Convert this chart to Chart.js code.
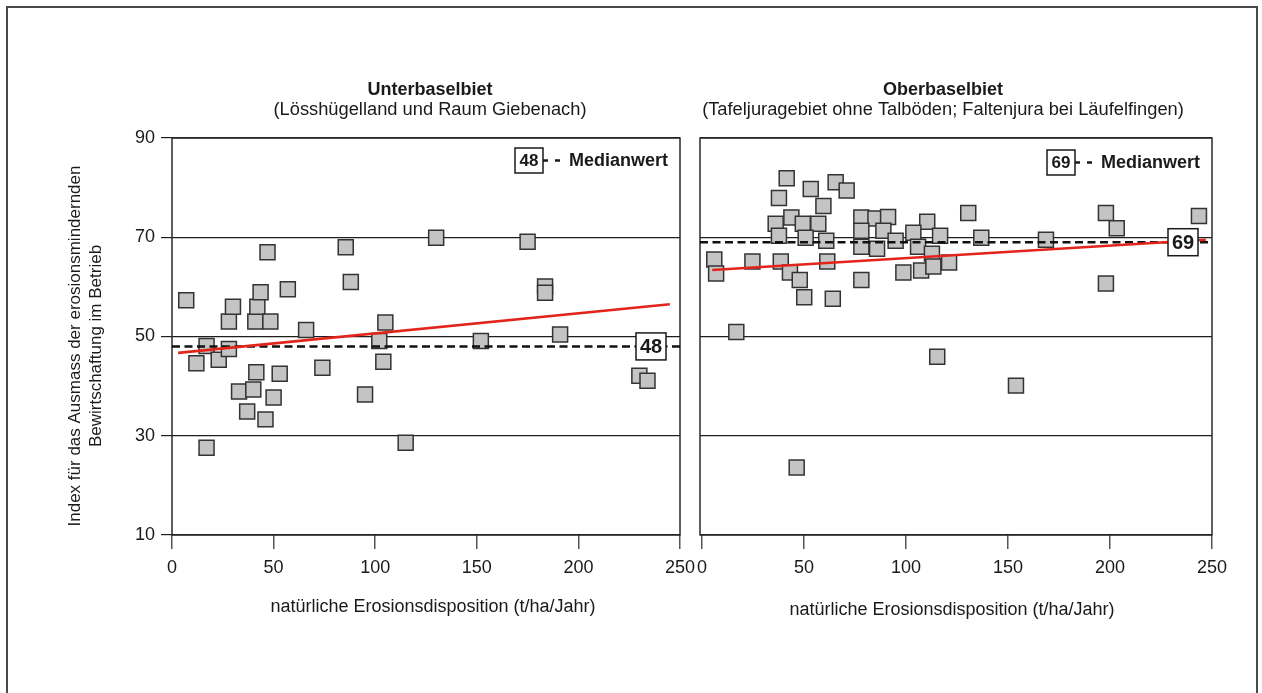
<!DOCTYPE html>
<html>
<head>
<meta charset="utf-8">
<script src="https://cdn.jsdelivr.net/npm/chart.js@4.4.1/dist/chart.umd.min.js"></script>
<style>
  html, body { margin: 0; padding: 0; background: #fff; width: 1262px; height: 693px; overflow: hidden; }
  #frame { position: absolute; left: 6px; top: 6px; width: 1252px; height: 720px; border: 2px solid #4a4a4a; box-sizing: border-box; }
  canvas { position: absolute; top: 0; }
  #cUnter { left: 0; }
  #cOber { left: 660px; }
</style>
</head>
<body>
<div id="frame"></div>
<canvas id="cUnter" width="720" height="693"></canvas>
<canvas id="cOber" width="602" height="693"></canvas>
<script>
// ---- Data ----
const xTicks = [0, 50, 100, 150, 200, 250];
const yTicks = [10, 30, 50, 70, 90];

// Unterbaselbiet: Erosionsdisposition (t/ha/Jahr) vs. Index
const unterX = [7, 12, 17, 17, 23, 28, 28, 30, 33, 37, 40, 41, 41.5, 42, 43.6, 46, 47, 48.4, 50, 53,
                57, 66, 74, 85.5, 88, 95, 102, 104, 105, 115, 130, 152, 175, 183.6, 183.6, 191, 230, 234];
const unterY = [57.3, 44.6, 48.1, 27.6, 45.3, 53, 47.5, 56, 38.9, 34.9, 39.3, 53, 42.8, 56, 58.9, 33.3, 67, 53, 37.7, 42.5,
                59.5, 51.3, 43.7, 68, 61, 38.3, 49.1, 44.9, 52.8, 28.6, 69.9, 49.1, 69.1, 60.1, 58.8, 50.4, 42.1, 41.1];
const unterMedian = 48;
const unterTrendX = [3, 245];
const unterTrendY = [46.7, 56.5];

// Oberbaselbiet
const oberX = [41.5, 53.3, 65.5, 70.9, 37.7, 59.5, 36.1, 43.8, 49.4, 57, 78.1, 85, 91.2, 110.4, 37.7, 50.8, 60.9,
               78.1, 88.9, 94.9, 103.6, 116.7, 78.1, 85.8, 105.9, 112.7, 6, 6.9, 24.7, 38.6, 61.4, 43.1, 47.9,
               78.1, 50.1, 64.1, 98.7, 107.4, 113.4, 121.1, 16.8, 130.5, 136.9, 168.6, 198, 203.3, 198, 243.6,
               115.3, 46.4, 153.9];
const oberY = [81.9, 79.7, 81.1, 79.4, 77.9, 76.3, 72.7, 74, 72.7, 72.7, 74, 73.8, 74.1, 73.1, 70.3, 69.9, 69.3,
               71.3, 71.3, 69.3, 70.9, 70.3, 68.1, 67.7, 68.1, 66.7, 65.5, 62.7, 65.1, 65.1, 65.1, 62.9, 61.4,
               61.4, 57.9, 57.6, 62.9, 63.3, 64.1, 64.9, 50.9, 74.9, 69.9, 69.5, 74.9, 71.8, 60.7, 74.3,
               45.9, 23.6, 40.1];
const oberMedian = 69;
const oberTrendX = [5, 247];
const oberTrendY = [63.4, 69.5];

const yAxisTitle = ['Index für das Ausmass der erosionsmindernden', 'Bewirtschaftung im Betrieb'];
const xAxisTitle = 'natürliche Erosionsdisposition (t/ha/Jahr)';
const legendLabel = 'Medianwert';

// ---- Styling helpers ----
const FONT = "'Liberation Sans', Arial, Helvetica, sans-serif";
const INK = '#1a1a1a';

function labelBox(ctx, x, y, w, h) {
  ctx.fillStyle = '#fff';
  ctx.fillRect(x, y, w, h);
  ctx.strokeStyle = '#1a1a1a';
  ctx.lineWidth = 1.5;
  ctx.strokeRect(x, y, w, h);
}

// Plot frame around the chart area
const framePlugin = {
  id: 'plotFrame',
  beforeDatasetsDraw(chart) {
    const { ctx, chartArea: a } = chart;
    ctx.save();
    ctx.strokeStyle = '#2a2a2a';
    ctx.lineWidth = 1.5;
    ctx.strokeRect(a.left, a.top, a.right - a.left, a.bottom - a.top);
    ctx.restore();
  }
};

// Median tag at the right edge and the "Medianwert" key
const medianPlugin = {
  id: 'medianTags',
  afterDatasetsDraw(chart, args, opts) {
    const { ctx, chartArea: a, scales } = chart;
    const m = opts.median;
    const yPix = scales.y.getPixelForValue(m);
    ctx.save();
    // tag on the median line
    const cx = a.right - 29;
    labelBox(ctx, cx - 15, yPix - 13.5, 30, 27);
    ctx.fillStyle = INK;
    ctx.font = 'bold 20px ' + FONT;
    ctx.textAlign = 'center';
    ctx.textBaseline = 'middle';
    ctx.fillText(String(m), cx, yPix + 1);

    // key in the upper right corner
    const bx = a.right - 165, by = a.top + 10 + opts.keyShift;
    labelBox(ctx, bx, by, 28, 25);
    ctx.fillStyle = INK;
    ctx.font = 'bold 17px ' + FONT;
    ctx.fillText(String(m), bx + 14, by + 13);
    ctx.strokeStyle = INK;
    ctx.lineWidth = 2.5;
    ctx.beginPath();
    ctx.moveTo(bx + 28, by + 12.5); ctx.lineTo(bx + 33, by + 12.5);
    ctx.moveTo(bx + 40, by + 12.5); ctx.lineTo(bx + 45, by + 12.5);
    ctx.stroke();
    ctx.font = 'bold 18px ' + FONT;
    ctx.textAlign = 'left';
    ctx.fillText(legendLabel, bx + 54, by + 13);
    ctx.restore();
  }
};

// Panel titles and axis titles
const textPlugin = {
  id: 'panelTexts',
  afterDraw(chart, args, opts) {
    const { ctx } = chart;
    ctx.save();
    ctx.fillStyle = INK;
    ctx.textAlign = 'center';
    ctx.textBaseline = 'middle';
    ctx.font = 'bold 18px ' + FONT;
    ctx.fillText(opts.title, opts.titleX, 90);
    ctx.font = '18.3px ' + FONT;
    ctx.fillText(opts.subtitle, opts.titleX, 110);
    ctx.font = '18px ' + FONT;
    ctx.fillText(xAxisTitle, opts.xTitleX, opts.xTitleY);
    if (opts.yTitle) {
      ctx.font = '17px ' + FONT;
      [[75, yAxisTitle[0]], [96, yAxisTitle[1]]].forEach(([x, t]) => {
        ctx.save();
        ctx.translate(x, 346);
        ctx.rotate(-Math.PI / 2);
        ctx.fillText(t, 0, 0);
        ctx.restore();
      });
    }
    ctx.restore();
  }
};

function buildPanel(id, cfg) {
  const pts = cfg.xs.map((x, i) => ({ x, y: cfg.ys[i] }));
  const medianLine = [{ x: cfg.xMin, y: cfg.median }, { x: 250, y: cfg.median }];
  const trend = cfg.trendX.map((x, i) => ({ x, y: cfg.trendY[i] }));
  return new Chart(document.getElementById(id), {
    type: 'scatter',
    data: {
      datasets: [
        { data: trend, showLine: true, borderColor: '#e3241b', borderWidth: 2.6, pointRadius: 0, fill: false },
        { data: medianLine, showLine: true, borderColor: '#111', borderWidth: 2.6, borderDash: [8, 4.5], pointRadius: 0, fill: false },
        { data: pts, pointStyle: 'rect', pointRadius: 10.6, pointHoverRadius: 10.6,
          backgroundColor: '#c4c4c4', borderColor: '#333', borderWidth: 1.5 }
      ]
    },
    options: {
      responsive: false,
      animation: false,
      devicePixelRatio: 1,
      layout: { padding: { top: 138, right: cfg.padRight, left: 0, bottom: 0 } },
      plugins: {
        legend: { display: false },
        tooltip: { enabled: false },
        medianTags: { median: cfg.median, keyShift: cfg.keyShift },
        panelTexts: { title: cfg.title, subtitle: cfg.subtitle, titleX: cfg.titleX,
                      xTitleX: cfg.xTitleX, xTitleY: cfg.xTitleY, yTitle: cfg.yTitle }
      },
      scales: {
        x: {
          type: 'linear', min: cfg.xMin, max: 250,
          afterFit: s => { s.height = 158; },
          afterBuildTicks: s => { s.ticks = xTicks.map(v => ({ value: v })); },
          border: { display: false },
          grid: { drawOnChartArea: false, drawTicks: true, tickLength: 14, color: '#555', lineWidth: 1.5 },
          ticks: { font: { family: FONT, size: 18 }, color: INK, padding: 8 }
        },
        y: {
          type: 'linear', min: 10, max: 90,
          afterFit: s => { s.width = cfg.yWidth; },
          afterBuildTicks: s => { s.ticks = yTicks.map(v => ({ value: v })); },
          border: { display: false },
          grid: { color: '#1e1e1e', lineWidth: 1.2, drawTicks: cfg.yLabels, tickLength: 11 },
          ticks: { display: cfg.yLabels, font: { family: FONT, size: 18 }, color: INK, padding: 6 }
        }
      }
    },
    plugins: [framePlugin, medianPlugin, textPlugin]
  });
}

buildPanel('cUnter', {
  xs: unterX, ys: unterY, median: unterMedian, trendX: unterTrendX, trendY: unterTrendY,
  xMin: 0, yWidth: 172, padRight: 40, yLabels: true, keyShift: 0,
  title: 'Unterbaselbiet', subtitle: '(Lösshügelland und Raum Giebenach)', titleX: 430,
  xTitleX: 433, xTitleY: 607, yTitle: true
});

buildPanel('cOber', {
  xs: oberX, ys: oberY, median: oberMedian, trendX: oberTrendX, trendY: oberTrendY,
  xMin: -1, yWidth: 40, padRight: 50, yLabels: false, keyShift: 2,
  title: 'Oberbaselbiet', subtitle: '(Tafeljuragebiet ohne Talböden; Faltenjura bei Läufelfingen)', titleX: 283,
  xTitleX: 292, xTitleY: 610, yTitle: false
});
</script>
</body>
</html>
